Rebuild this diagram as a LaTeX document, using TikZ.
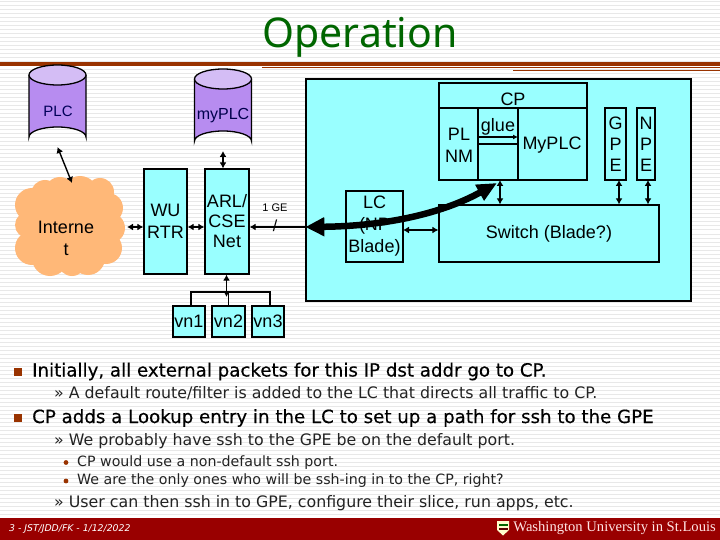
\documentclass[tikz,border=0pt]{standalone}
\usepackage{fontspec}
\setmainfont{Liberation Sans}
\newfontfamily\slidefont{DejaVu Sans}
\newfontfamily\headfont[FakeBold=0.3]{DejaVu Sans}
\newfontfamily\titlefont{Noto Sans}
\newfontfamily\logofont{Liberation Serif}
\usetikzlibrary{arrows,arrows.meta,calc,positioning}
\definecolor{boxcyan}{HTML}{99FFFF}
\definecolor{cansides}{HTML}{B78CF0}
\definecolor{cantop}{HTML}{D4BDF5}
\definecolor{cloudtan}{HTML}{FFB878}
\definecolor{wured}{HTML}{990000}
\definecolor{titlegreen}{HTML}{006600}
\definecolor{rulered}{HTML}{993300}
\definecolor{stripe}{HTML}{E8E8E8}
\definecolor{subgrey}{HTML}{222222}
\tikzset{
  blockbox/.style={draw=black,line width=1.3pt,fill=boxcyan,align=center,inner sep=0pt,font=\fontsize{18}{21}\selectfont},
  plainbox/.style={draw=black,line width=1.3pt,align=center,inner sep=0pt,font=\fontsize{18}{21}\selectfont},
  linklabel/.style={inner sep=0pt,font=\fontsize{18}{21}\selectfont,align=center},
  twoway/.style={line width=1.4pt,{Latex[length=6pt,width=7pt]}-{Latex[length=6pt,width=7pt]}},
  busline/.style={line width=1.1pt},
  level1/.style={anchor=west,inner sep=0pt,font=\headfont\fontsize{18.2}{22}\selectfont},
  level2/.style={anchor=west,inner sep=0pt,text=subgrey,font=\slidefont\fontsize{15.8}{19}\selectfont},
  level3/.style={anchor=west,inner sep=0pt,text=subgrey,font=\slidefont\fontsize{14.2}{17}\selectfont},
}
\begin{document}
\begin{tikzpicture}[x=1pt,y=-1pt]
  \useasboundingbox (0,0) rectangle (720,540);
  \fill[white] (0,0) rectangle (720,540);
  \foreach \ypos in {2,6,...,518}
    \draw[stripe,line width=1pt] (0,\ypos) -- (720,\ypos); % slide background

  \node[anchor=base,inner sep=0pt,text=titlegreen,font=\titlefont\fontsize{41}{48}\selectfont] (title) at (360,48) {Operation};
  \fill[rulered] (0,62.5) rectangle (720,66);
  \fill[rulered] (262,67.5) rectangle (720,68.5);
  \fill[rulered] (513,70.5) rectangle (720,71.5);

  \node[draw=black,line width=1.3pt,fill=boxcyan,minimum width=385pt,minimum height=222pt,inner sep=0pt] (router) at (498.5,190) {};

  % databases
  \foreach \canname/\canx/\cany in {plccan/57.5/65,myplccan/223/69} {
    \fill[cansides,draw=black,line width=1.3pt] (\canx-28.5,\cany+10) -- (\canx-28.5,\cany+72)
      arc[start angle=180,end angle=360,x radius=28.5,y radius=10] -- (\canx+28.5,\cany+10);
    \fill[cantop,draw=black,line width=1.3pt] (\canx,\cany+10) ellipse[x radius=28.5,y radius=10];
    \coordinate (\canname) at (\canx,\cany+82);
  }
  \node[linklabel,text=black!65!blue,font=\fontsize{15}{18}\selectfont] (plctext) at (58,111) {PLC};
  \node[linklabel,text=black!70!blue,font=\fontsize{16}{18}\selectfont] (myplctext) at (223,116) {myPLC};

  % internet
  \foreach \bx/\by/\br in {32/205/17,45/194/14,60/192/15,80/194/18,100/192/14,108/208/15,110/228/15,106/248/16,88/258/17,72/262/14,50/258/18,32/248/17,28/225/13,70/225/42}
    \fill[cloudtan] (\bx,\by) circle (\br);
  \coordinate (cloudtop) at (72,183);
  \coordinate (cloudright) at (127,227);
  \node[linklabel,font=\fontsize{18}{22}\selectfont] (inettext) at (66,238) {Interne\\t};

  \node[blockbox,font=\fontsize{18}{22}\selectfont,minimum width=43pt,minimum height=105pt] (wurtr) at (165.5,221.5) {WU\\RTR};
  \node[blockbox,font=\fontsize{18}{20}\selectfont,minimum width=44pt,minimum height=105pt,text width=44pt] (arl) at (227,221.5) {ARL/\\CSE\\Net};

  \node[blockbox,minimum width=32pt,minimum height=31pt] (vna) at (189,321.5) {vn1};
  \node[blockbox,minimum width=33pt,minimum height=31pt] (vnb) at (228.5,321.5) {vn2};
  \node[blockbox,minimum width=32pt,minimum height=31pt] (vnc) at (268,321.5) {vn3};
  \coordinate (busmid) at (226.5,297);
  \coordinate (busleft) at (191,292);
  \coordinate (busright) at (270,292);
  \draw[busline] (vna.north -| busleft) -- (busleft) -- (busright) -- (vnc.north -| busright);
  \draw[busline] (vnb.north) -- (vnb.north |- busleft);

  \draw[twoway] (plccan) -- (cloudtop);
  \draw[twoway] (cloudright) -- (wurtr.west |- cloudright);
  \draw[twoway] (wurtr.east |- cloudright) -- (arl.west |- cloudright);
  \draw[twoway] (myplccan) -- (myplccan |- arl.north);
  \draw[twoway] (busmid |- arl.south) -- (busmid);

  % 1 GE link
  \draw[line width=1.4pt,{Latex[length=6pt,width=7pt]}-] (arl.east |- cloudright) -- (router.west |- cloudright);
  \node[inner sep=0pt,font=\fontsize{11}{13}\selectfont] (getext) at (275,207.5) {1 GE};
  \node[inner sep=0pt,font=\fontsize{16}{18}\selectfont] (geslash) at (275,226) {/};

  % cp
  \node[plainbox,minimum width=148pt,minimum height=97pt] (cp) at (513,131.5) {};
  \draw[line width=1.3pt] (439,108) -- (587,108);
  \draw[line width=1.3pt] (478,108) -- (478,180);
  \draw[line width=1.3pt] (518,108) -- (518,180);
  \draw[line width=1.3pt] (478,144) -- (518,144);
  \node[linklabel] (cptext) at (513,99) {CP};
  \node[linklabel,font=\fontsize{18}{22}\selectfont] (plnm) at (459,145) {PL\\NM};
  \node[linklabel] (gluetext) at (498,127) {glue};
  \node[linklabel] (myplctwo) at (552,145) {MyPLC};
  \draw[line width=1.1pt,-{Latex[length=5pt,width=5pt]}] (479,137) -- (518,137);

  \node[plainbox,minimum width=21pt,minimum height=72pt] (gpe) at (615.5,144) {G\\P\\E};
  \node[plainbox,minimum width=18pt,minimum height=72pt] (npe) at (646,144) {N\\P\\E};
  \node[plainbox,minimum width=220pt,minimum height=57pt] (switch) at (549,233.5) {Switch (Blade?)};
  \node[plainbox,font=\fontsize{18}{22}\selectfont,minimum width=57pt,minimum height=71pt] (lc) at (374.5,226.5) {LC\\(NP\\Blade)};

  \coordinate (lcport) at (403,230);
  \coordinate (cpport) at (500,180);
  \coordinate (gpeport) at (619,180);
  \coordinate (npeport) at (648,180);
  \draw[twoway] (lcport) -- (switch.west |- lcport);
  \draw[twoway] (cpport) -- (cpport |- switch.north);
  \draw[twoway] (gpeport) -- (gpeport |- switch.north);
  \draw[twoway] (npeport) -- (npeport |- switch.north);

  % default route
  \coordinate (routeend) at (497,183);
  \draw[line width=6.5pt,{Triangle[length=19pt,width=18pt]}-{Triangle[length=20pt,width=17pt]}]
    (router.west |- cloudright) .. controls (390,226) and (445,212) .. (routeend);

  % text
  \fill[rulered] (14,368) rectangle (22,376);
  \node[level1] (pointa) at (32,371.5) {Initially, all external packets for this IP dst addr go to CP.};
  \node[level2] (subaa) at (54,393.5) {» A default route/filter is added to the LC that directs all traffic to CP.};
  \fill[rulered] (14,414) rectangle (22,422);
  \node[level1] (pointb) at (32,418) {CP adds a Lookup entry in the LC to set up a path for ssh to the GPE};
  \node[level2] (subba) at (54,441) {» We probably have ssh to the GPE be on the default port.};
  \fill[rulered] (66,462.5) circle (2.4);
  \fill[rulered] (66,481) circle (2.4);
  \node[level3] (subbb) at (77,462.5) {CP would use a non-default ssh port.};
  \node[level3] (subbc) at (77,481) {We are the only ones who will be ssh-ing in to the CP, right?};
  \node[level2] (subbd) at (54,503) {» User can then ssh in to GPE, configure their slice, run apps, etc.};

  % footer
  \fill[wured] (0,518) rectangle (720,540);
  \node[anchor=west,inner sep=0pt,text=white,font=\slidefont\itshape\fontsize{9.3}{11}\selectfont] (footer) at (9,528.5) {3 - JST/JDD/FK - 1/12/2022};
  \fill[white!80!yellow] (497,521) -- (509,521) -- (509,530) -- (503,535.5) -- (497,530) -- cycle;
  \fill[black!60!green] (498.5,524) rectangle (507.5,526);
  \fill[black!40!wured] (498.5,528) rectangle (507.5,530);
  \node[anchor=east,inner sep=0pt,text=white!90!red,font=\logofont\fontsize{14.6}{18}\selectfont] (logotext) at (716,528.5) {Washington University in St.Louis};
\end{tikzpicture}
\end{document}
